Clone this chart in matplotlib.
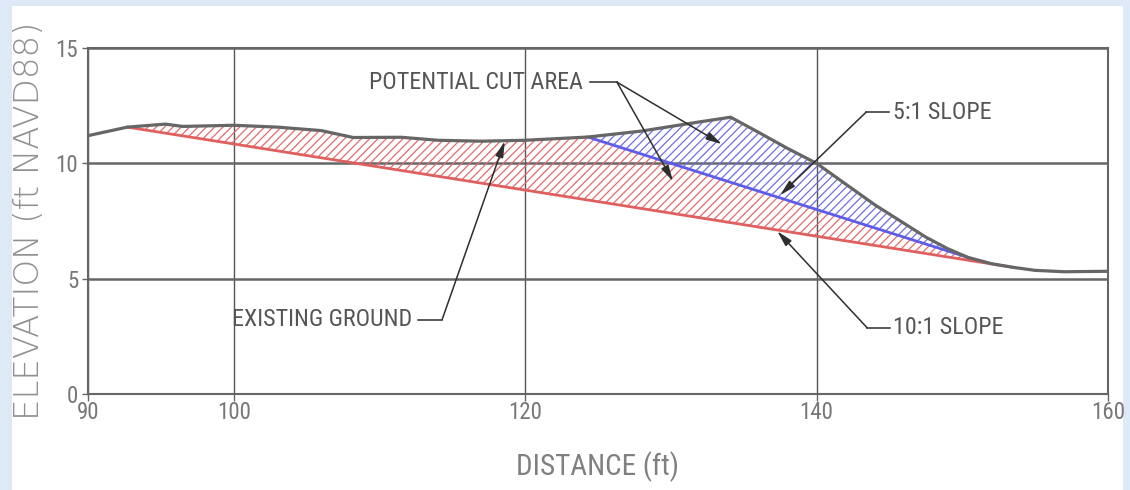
import numpy as np
import matplotlib.pyplot as plt
from matplotlib import font_manager
from matplotlib.patches import Rectangle

# existing ground profile (distance ft, elevation ft)
ground_x = [90, 92.7, 95.3, 96.5, 100, 103, 106, 108.2, 111.5, 114, 117, 120,
            124.3, 128, 132, 134.1, 136, 138, 140, 142, 144, 146, 147.5, 149,
            150.4, 152, 153.5, 155, 157, 160]
ground_y = [11.2, 11.57, 11.7, 11.6, 11.65, 11.57, 11.42, 11.12, 11.13, 11.0, 10.96, 11.0,
            11.14, 11.4, 11.8, 12.0, 11.35, 10.65, 10.0, 9.1, 8.2, 7.4, 6.8, 6.3,
            5.92, 5.65, 5.49, 5.36, 5.3, 5.32]

# slope lines: start / end points (they sit on the ground profile)
slope10_x = [92.7, 153.5]
slope10_y = [11.57, 5.49]
slope5_x = [124.3, 150.4]
slope5_y = [11.14, 5.92]

xticks = [90, 100, 120, 140, 160]
yticks = [0, 5, 10, 15]

# pick the narrowest installed sans for the CAD-style lettering
fonts = font_manager.fontManager.ttflist
names = {f.name for f in fonts}
stretch = 'normal'
if 'Liberation Sans Narrow' in names:
    cad = 'Liberation Sans Narrow'
elif 'Roboto Condensed' in names:
    cad = 'Roboto Condensed'
elif any(f.name == 'DejaVu Sans' and f.stretch == 'condensed' for f in fonts):
    cad = 'DejaVu Sans'
    stretch = 'condensed'
else:
    cad = 'Roboto'
narrow = [cad, 'DejaVu Sans']
gray_txt = '#555555'
lead = '#2e2e2e'

fig = plt.figure(figsize=(11.3, 4.9), dpi=100)
fig.patch.set_facecolor('#dde9f6')
fig.patches.append(Rectangle((12 / 1130, 0), 1111 / 1130, 484 / 490,
                             transform=fig.transFigure, facecolor='white',
                             edgecolor='none', zorder=-1))
ax = fig.add_axes([88 / 1130, 96 / 490, 1020 / 1130, 346 / 490])

gx = np.array(ground_x)
gy = np.array(ground_y)
i10a = ground_x.index(slope10_x[0])
i10b = ground_x.index(slope10_x[1])
i5a = ground_x.index(slope5_x[0])
i5b = ground_x.index(slope5_x[1])

plt.rcParams['hatch.linewidth'] = 0.9
# red cut area (ground down to 10:1 slope, capped by 5:1 slope)
rx = np.concatenate([gx[i10a:i5a + 1], gx[i5b:i10b + 1]])
ry = np.concatenate([gy[i10a:i5a + 1], gy[i5b:i10b + 1]])
ax.fill(rx, ry, facecolor='none', edgecolor='#e36b6b', hatch='////', lw=0, zorder=2)
# blue cut area (ground down to 5:1 slope)
ax.fill(gx[i5a:i5b + 1], gy[i5a:i5b + 1], facecolor='none', edgecolor='#6e6ee6',
        hatch='////', lw=0, zorder=2)

ax.plot(slope10_x, slope10_y, color='#e06060', lw=2, zorder=3)
ax.plot(slope5_x, slope5_y, color='#5c5ce8', lw=2, zorder=3)
ax.plot(ground_x, ground_y, color='#666666', lw=2.3, zorder=4)

ax.set_xlim(90, 160)
ax.set_ylim(0, 15)
ax.set_xticks(xticks)
ax.set_yticks(yticks)
ax.xaxis.grid(True, color='#555555', lw=1.0)
ax.yaxis.grid(True, color='#666666', lw=1.8)
ax.set_axisbelow(True)
for s in ax.spines.values():
    s.set_color('#666666')
    s.set_linewidth(1.5)
ax.tick_params(axis='x', direction='out', length=5, width=1, color='#666666',
               pad=0, labelsize=16.5, labelcolor='#777777')
ax.tick_params(axis='y', direction='out', length=4, width=1, color='#666666',
               pad=3, labelsize=16.5, labelcolor='#777777')
for lab in ax.get_xticklabels() + ax.get_yticklabels():
    lab.set_family(narrow)
    lab.set_stretch(stretch)

ax.set_xlabel('DISTANCE (ft)', family=narrow, stretch=stretch, fontsize=21,
              color='#808080')
ax.xaxis.set_label_coords(0.5, -0.21)
ax.xaxis.label.set_va('center')
ax.set_ylabel('ELEVATION (ft NAVD88)', family='DejaVu Sans', fontsize=24.5,
              color='#909090', fontweight='light')
ax.yaxis.set_label_coords(-0.057, 0.5)
ax.yaxis.label.set_va('center')

arrow = dict(arrowstyle='-|>,head_length=0.95,head_width=0.24', color=lead,
             lw=1.1, shrinkA=0, shrinkB=0)
txt = dict(family=narrow, stretch=stretch, fontsize=17.3, color=gray_txt,
           va='center', zorder=6)

# POTENTIAL CUT AREA
ax.text(124.0, 13.52, 'POTENTIAL CUT AREA', ha='right', **txt)
ax.plot([124.45, 126.3], [13.52, 13.52], color=lead, lw=1.1, zorder=6)
ax.annotate('', xy=(133.5, 10.83), xytext=(126.3, 13.52), arrowprops=arrow, zorder=6)
ax.annotate('', xy=(130.15, 9.22), xytext=(126.3, 13.52), arrowprops=arrow, zorder=6)

# 5:1 SLOPE
ax.text(145.25, 12.22, '5:1 SLOPE', ha='left', **txt)
ax.plot([143.4, 145.0], [12.22, 12.22], color=lead, lw=1.1, zorder=6)
ax.annotate('', xy=(137.5, 8.62), xytext=(143.4, 12.22), arrowprops=arrow, zorder=6)

# 10:1 SLOPE
ax.text(145.25, 2.87, '10:1 SLOPE', ha='left', **txt)
ax.plot([143.47, 145.05], [2.87, 2.87], color=lead, lw=1.1, zorder=6)
ax.annotate('', xy=(137.3, 7.06), xytext=(143.47, 2.87), arrowprops=arrow, zorder=6)

# EXISTING GROUND
ax.text(112.25, 3.22, 'EXISTING GROUND', ha='right', **txt)
ax.plot([112.65, 114.3], [3.22, 3.22], color=lead, lw=1.1, zorder=6)
ax.annotate('', xy=(118.6, 10.96), xytext=(114.3, 3.22), arrowprops=arrow, zorder=6)

fig.savefig('out.png', dpi=100, facecolor=fig.get_facecolor())
